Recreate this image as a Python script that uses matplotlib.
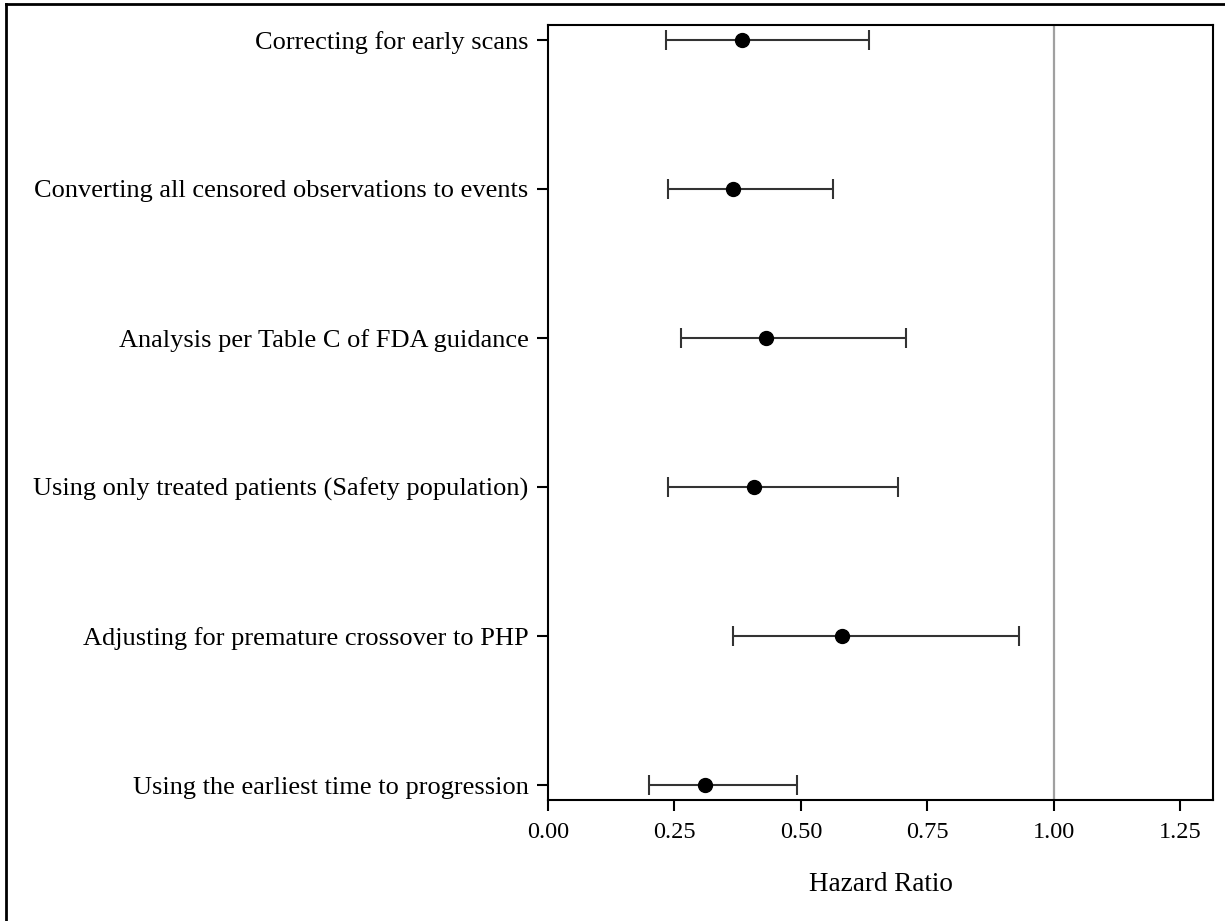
import matplotlib.pyplot as plt
from matplotlib.lines import Line2D

plt.rcParams['font.family'] = ['Liberation Serif', 'DejaVu Serif']

labels = [
    "Correcting for early scans",
    "Converting all censored observations to events",
    "Analysis per Table C of FDA guidance",
    "Using only treated patients (Safety population)",
    "Adjusting for premature crossover to PHP",
    "Using the earliest time to progression",
]
hr = [0.383, 0.366, 0.431, 0.407, 0.582, 0.310]
lower = [0.234, 0.237, 0.263, 0.237, 0.365, 0.200]
upper = [0.634, 0.563, 0.708, 0.692, 0.931, 0.492]

ypos = list(range(len(labels)))
xerr = [[h - l for h, l in zip(hr, lower)], [u - h for h, u in zip(hr, upper)]]

fig = plt.figure(figsize=(12.25, 9.21), dpi=100)
# outer frame: only top and left edges are visible in the original
fig.add_artist(Line2D([0.0053, 0.0053], [0, 0.9957], transform=fig.transFigure,
                      color='black', lw=2))
fig.add_artist(Line2D([0.0053, 1], [0.9957, 0.9957], transform=fig.transFigure,
                      color='black', lw=2))

ax = fig.add_axes([0.4473, 0.1314, 0.5429, 0.8415])

ax.axvline(1.0, color='#a0a0a0', lw=1.6, zorder=1)
ax.errorbar(hr, ypos, xerr=xerr, fmt='o', color='black', ecolor='#333333',
            elinewidth=1.5, capsize=7, capthick=1.5, markersize=10, zorder=3)

ax.set_xlim(0, 1.315)
ax.set_ylim(5.1, -0.1)
ax.set_yticks(ypos)
ax.set_yticklabels(labels)
ax.set_xticks([0, 0.25, 0.5, 0.75, 1.0, 1.25])
ax.set_xticklabels(["0.00", "0.25", "0.50", "0.75", "1.00", "1.25"])
ax.tick_params(axis='both', length=8, width=1.5, direction='out')
ax.tick_params(axis='y', labelsize=19, pad=6)
ax.tick_params(axis='x', labelsize=17.5, pad=8)
for s in ax.spines.values():
    s.set_linewidth(1.5)
ax.set_xlabel("Hazard Ratio", fontsize=19.5, labelpad=21)

fig.savefig("out.png", dpi=100)
